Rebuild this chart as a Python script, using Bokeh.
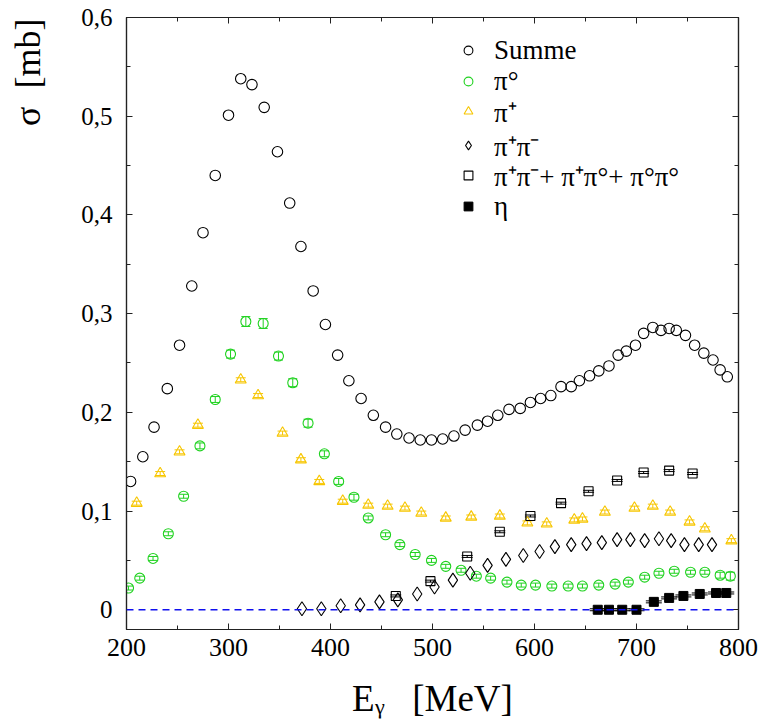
import numpy as np
from bokeh.plotting import figure
from bokeh.models import (ColumnDataSource, Legend, LegendItem, Span, Whisker,
                          TeeHead, LinearAxis, FixedTicker, Title)
from bokeh.embed import file_html
from bokeh.resources import INLINE

# ---------------- data ----------------
E_sum = [204, 216, 227, 240, 252, 264, 275, 287, 300, 312, 323, 335, 348, 360, 371, 383, 395,
         407, 418, 430, 442, 454, 465, 477, 488, 499, 510, 521, 532, 544, 554, 564, 575, 586,
         596, 606, 616, 626, 636, 644, 654, 663, 673, 682, 690, 699, 707, 716, 724, 732, 739,
         748, 757, 766, 775, 782, 789]
sig_sum = [0.130, 0.155, 0.185, 0.224, 0.268, 0.328, 0.382, 0.440, 0.501, 0.538, 0.532, 0.509,
           0.464, 0.412, 0.368, 0.323, 0.289, 0.258, 0.232, 0.214, 0.197, 0.185, 0.178, 0.174,
           0.172, 0.172, 0.173, 0.176, 0.182, 0.187, 0.191, 0.197, 0.203, 0.204, 0.210, 0.214,
           0.217, 0.226, 0.226, 0.232, 0.237, 0.242, 0.247, 0.258, 0.262, 0.268, 0.280, 0.286,
           0.283, 0.285, 0.283, 0.278, 0.268, 0.260, 0.253, 0.243, 0.236]

E_pi0 = [202, 213, 226, 241, 256, 272, 287, 302, 317, 334, 349, 363, 378, 394, 408, 423, 437,
         454, 468, 483, 499, 513, 528, 543, 557, 573, 587, 601, 617, 633, 647, 663, 679, 692,
         708, 722, 737, 753, 767, 782, 792]
sig_pi0 = [0.022, 0.032, 0.052, 0.077, 0.115, 0.166, 0.213, 0.259, 0.292, 0.290, 0.257, 0.230,
           0.189, 0.158, 0.130, 0.114, 0.093, 0.076, 0.066, 0.056, 0.050, 0.044, 0.040, 0.034,
           0.032, 0.028, 0.025, 0.025, 0.024, 0.024, 0.024, 0.025, 0.026, 0.028, 0.033, 0.037,
           0.039, 0.038, 0.038, 0.035, 0.034]
err_pi0 = [0.002, 0.002, 0.002, 0.002, 0.002, 0.003, 0.003, 0.004, 0.005, 0.005, 0.004, 0.004,
           0.004, 0.003, 0.003, 0.003, 0.002, 0.002, 0.002, 0.002, 0.002, 0.002, 0.002, 0.002,
           0.002, 0.002, 0.002, 0.002, 0.002, 0.002, 0.002, 0.002, 0.002, 0.002, 0.002, 0.002,
           0.002, 0.002, 0.002, 0.003, 0.004]

E_pip = [210, 233, 252, 270, 312, 329, 353, 371, 389, 412, 437, 456, 473, 489, 513, 538, 566,
         593, 612, 639, 647, 669, 698, 716, 733, 752, 767, 793]
sig_pip = [0.108, 0.138, 0.160, 0.187, 0.233, 0.217, 0.179, 0.152, 0.130, 0.110, 0.106, 0.105,
           0.103, 0.098, 0.093, 0.094, 0.095, 0.088, 0.087, 0.091, 0.092, 0.099, 0.103, 0.105,
           0.099, 0.089, 0.082, 0.070]
err_pip = [0.002] * 28

E_pipm = [372, 391, 410, 429, 448, 466, 485, 502, 520, 537, 554, 572, 589, 605, 620, 636, 651,
          666, 681, 694, 708, 722, 734, 747, 761, 774]
sig_pipm = [0.001, 0.001, 0.004, 0.005, 0.008, 0.010, 0.016, 0.023, 0.030, 0.037, 0.045, 0.051,
            0.055, 0.059, 0.064, 0.066, 0.067, 0.068, 0.071, 0.071, 0.070, 0.072, 0.070, 0.066,
            0.066, 0.066]

E_2pi = [464, 498, 534, 566, 596, 626, 653, 681, 707, 732, 755]
sig_2pi = [0.014, 0.029, 0.054, 0.079, 0.095, 0.108, 0.120, 0.131, 0.139, 0.141, 0.138]
err_2pi = [0.001] * 11

E_eta = [662, 673, 686, 700, 717, 732, 746, 762, 778, 788]
sig_eta = [0.000, 0.000, 0.000, 0.000, 0.008, 0.012, 0.014, 0.016, 0.017, 0.017]
err_eta = [0.001] * 10

y_ticks = [0, 0.1, 0.2, 0.3, 0.4, 0.5, 0.6]
y_tick_labels = ["0", "0,1", "0,2", "0,3", "0,4", "0,5", "0,6"]
x_ticks = [200, 300, 400, 500, 600, 700, 800]

legend_labels = ["Summe", "\u03c0\u00b0", "\u03c0\u207a", "\u03c0\u207a\u03c0\u207b",
                 "\u03c0\u207a\u03c0\u207b+ \u03c0\u207a\u03c0\u00b0+ \u03c0\u00b0\u03c0\u00b0", "\u03b7"]
x_title = "E\u1d67\u00a0\u00a0\u00a0[MeV]"
y_title = "\u03c3\u00a0\u00a0[mb]"

GREEN = "#1fd21f"
YELLOW = "#f7c600"
SERIF = "Times New Roman"

# ---------------- figure ----------------
p = figure(width=762, height=721, x_range=(200, 800), y_range=(-0.02, 0.6),
           output_backend="svg", toolbar_location=None,
           min_border_left=125, min_border_right=24, min_border_top=17, min_border_bottom=90)
p.background_fill_color = "white"
p.border_fill_color = "white"
p.xgrid.visible = False
p.ygrid.visible = False
p.outline_line_color = "#222222"
p.outline_line_width = 1.2

xt = FixedTicker(ticks=x_ticks, minor_ticks=[250, 350, 450, 550, 650, 750])
yt = FixedTicker(ticks=y_ticks, minor_ticks=[0.05, 0.15, 0.25, 0.35, 0.45, 0.55])


def style_axis(ax, show_labels, size="26px"):
    ax.axis_line_color = "#222222"
    ax.axis_line_width = 1.2
    ax.major_tick_in = 6
    ax.major_tick_out = 0
    ax.minor_tick_in = 4
    ax.minor_tick_out = 0
    ax.major_tick_line_color = "#222222"
    ax.minor_tick_line_color = "#222222"
    if show_labels:
        ax.major_label_text_font = SERIF
        ax.major_label_text_font_size = size
        ax.major_label_text_color = "black"
    else:
        ax.major_label_text_font_size = "0px"
        ax.major_label_standoff = 0


xax = p.xaxis[0]
yax = p.yaxis[0]
xax.ticker = xt
yax.ticker = yt
yax.major_label_overrides = dict(zip(y_ticks, y_tick_labels))
style_axis(xax, True, "26px")
style_axis(yax, True, "25px")
xax.major_label_standoff = 9
yax.major_label_standoff = 14

xax.axis_label = x_title
xax.axis_label_text_font = SERIF
xax.axis_label_text_font_size = "37px"
xax.axis_label_text_font_style = "normal"
xax.axis_label_text_color = "black"
xax.axis_label_standoff = 19

# y title at the top end of the left side; the empty second line widens its
# panel so that the visible line sits further out, as in the reference
ytitle = Title(text=y_title + "\n", align="right", vertical_align="top", offset=1, standoff=14,
               text_font=SERIF, text_font_size="36px", text_font_style="normal",
               text_line_height=0.55, text_color="black")
p.add_layout(ytitle, "left")

top = LinearAxis(ticker=xt)
style_axis(top, False)
top.major_label_overrides = {t: "" for t in x_ticks}
p.add_layout(top, "above")
right = LinearAxis(ticker=yt)
style_axis(right, False)
right.major_label_overrides = {t: "" for t in y_ticks}
p.add_layout(right, "right")

# zero line
p.add_layout(Span(location=0, dimension="width", line_color="#1010ee",
                  line_dash="7 5", line_width=1.5))


def whisker(E, s, e, color, size):
    s = np.array(s)
    e = np.array(e)
    src = ColumnDataSource(dict(x=E, lo=s - e, hi=s + e))
    w = Whisker(source=src, base="x", lower="lo", upper="hi", dimension="height",
                line_color=color, line_width=1,
                lower_head=TeeHead(size=size, line_color=color, line_width=1),
                upper_head=TeeHead(size=size, line_color=color, line_width=1))
    p.add_layout(w)


whisker(E_pi0, sig_pi0, err_pi0, GREEN, 9)
whisker(E_pip, sig_pip, err_pip, YELLOW, 10)
whisker(E_2pi, sig_2pi, err_2pi, "black", 11)
whisker(E_eta, sig_eta, err_eta, "black", 16)

r_sum = p.scatter(E_sum, sig_sum, marker="circle", size=10.5, fill_color=None,
                  line_color="black", line_width=1.1)
r_pi0 = p.scatter(E_pi0, sig_pi0, marker="circle", size=10, fill_color=None,
                  line_color=GREEN, line_width=1.1)
r_pip = p.scatter(E_pip, sig_pip, marker="triangle", size=11, fill_color=None,
                  line_color=YELLOW, line_width=1.1)
r_pipm = p.scatter(E_pipm, sig_pipm, marker="diamond", size=14, fill_color=None,
                   line_color="black", line_width=1.1)
r_2pi = p.scatter(E_2pi, sig_2pi, marker="square", size=9, fill_color=None,
                  line_color="black", line_width=1.1)
r_eta = p.scatter(E_eta, sig_eta, marker="square", size=9, fill_color="black",
                  line_color="black", line_width=1)

renderers = [r_sum, r_pi0, r_pip, r_pipm, r_2pi, r_eta]
row_centers = [52, 83, 113, 147, 177, 208]   # legend row centres, px from top of canvas
for lab, r, cy in zip(legend_labels, renderers, row_centers):
    lg = Legend(items=[LegendItem(label=lab, renderers=[r])],
                location=(331, 611 - cy), border_line_color=None, background_fill_alpha=0,
                padding=0, margin=0, spacing=0, glyph_width=22, glyph_height=40,
                label_height=40, label_standoff=15, label_text_font=SERIF,
                label_text_font_size="27px", label_text_baseline="middle",
                label_text_color="black")
    p.add_layout(lg)

open("out.html", "w").write(file_html(p, INLINE))
